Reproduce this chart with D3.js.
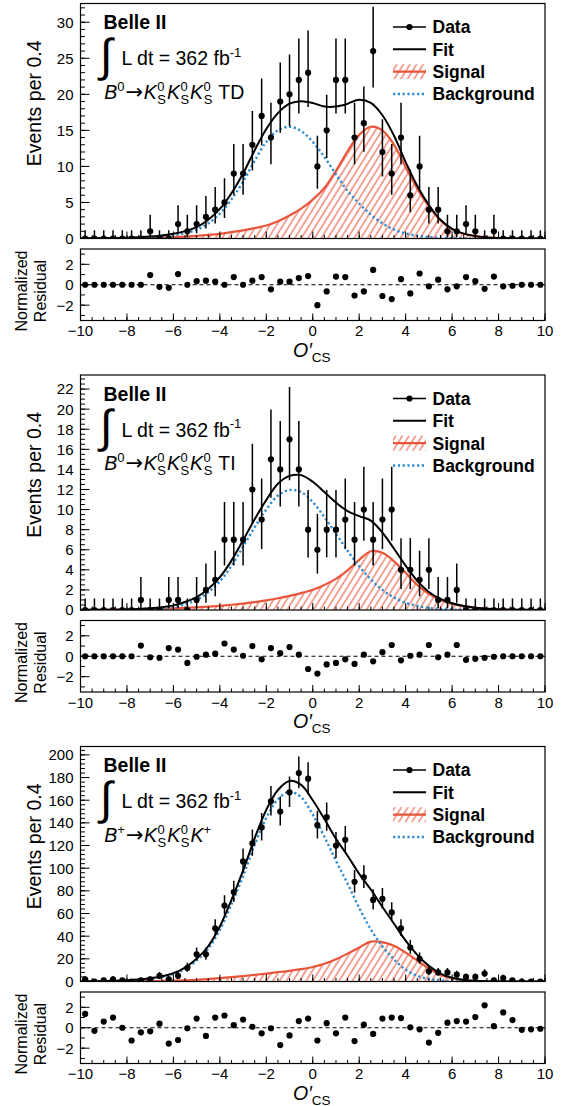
<!DOCTYPE html>
<html><head><meta charset="utf-8">
<script src="https://cdn.jsdelivr.net/npm/d3@7"></script>
<style>
body{margin:0;background:#fff;}
svg text{font-family:"Liberation Sans",Arial,Helvetica,sans-serif;fill:#000;}
</style></head><body>
<svg id="c" width="569" height="1106"></svg>
<script>
// ---------- data ----------
const binCenters = [-9.8,-9.4,-9.0,-8.6,-8.2,-7.8,-7.4,-7.0,-6.6,-6.2,-5.8,-5.4,-5.0,-4.6,-4.2,-3.8,-3.4,-3.0,-2.6,-2.2,-1.8,-1.4,-1.0,-0.6,-0.2,0.2,0.6,1.0,1.4,1.8,2.2,2.6,3.0,3.4,3.8,4.2,4.6,5.0,5.4,5.8,6.2,6.6,7.0,7.4,7.8,8.2,8.6,9.0,9.4,9.8];

const countsTD = [0,0,0,0,0,0,0,1,0,0, 2,1,2,3,4,5,9,9,13,17, 14,19,20,22,23, 10,15,22,22,14, 16,26,12,9,14, 6,10,4,4,1, 1,2,1,0,1, 0,0,0,0,0];
const residTD = [0,0,0,0,0,0,0,0.95,-0.2,-0.3, 1.05,0,0.35,0.4,0.3,0,0.75,0,0.4,0.75, -0.45,0.3,0.3,0.65,0.85, -2.0,-0.65,0.8,0.75,-1.05, -0.65,1.45,-1.1,-1.4,0.55, -0.85,1.1,-0.15,0.5,-0.45, -0.15,0.75,0.35,-0.4,0.8, -0.15,-0.1,0,0,0];

const countsTI = [0,0,0,0,0,0,1,0,0,1, 1,0,1,2,3,7,7,7,12,9, 15,14,17,14,8, 6,8,8,9,7, 10,7,9,10,4, 4,3,4,1,1, 2,0,0,0,0, 0,0,0,0,0];
const residTI = [0,0,0,0,0,0,1.05,-0.1,-0.15,0.8, 0.65,-0.65,-0.05,0.15,0.25,1.25,0.65,0.05,1.0,-0.3, 0.8,0.3,0.9,0.15,-1.25, -1.7,-0.8,-0.65,-0.3,-0.75, 0.15,-0.5,0.4,1.1,-0.4, 0.05,0.15,1.1,-0.1,0.15, 1.1,-0.35,-0.25,-0.15,-0.05, 0,0,0,0,0];

const countsBp = [2,0,1,2,1,0,1,2,5,2, 5,12,24,24,47,67,79,106,122,136, 159,150,167,184,179, 138,145,120,125,88, 92,72,73,61,47, 30,20,9,8,8, 6,4,4,7,1, 3,1,0,0,0];
const residBp = [1.35,-0.3,0.6,1.0,0,-1.25,-0.45,-0.35,0.4,-1.55, -1.2,-0.05,0.9,-0.8,1.0,1.2,0.25,0.8,0.1,-0.55, -0.05,-1.7,-0.75,0.65,0.9, -1.25,0.45,-0.55,1.0,-1.3, 0.3,-0.6,0.9,1.0,0.95, 0.05,-0.15,-1.45,-0.5,0.5, 0.65,0.6,1.05,2.2,0.15, 1.5,0.75,-0.2,-0.15,-0.1];

// fitted PDF components sampled on a 0.5 grid
const curveX = [-10,-9.5,-9,-8.5,-8,-7.5,-7,-6.5,-6,-5.5,-5,-4.5,-4,-3.5,-3,-2.5,-2,-1.5,-1,-0.5,0,0.5,1,1.5,2,2.5,3,3.5,4,4.5,5,5.5,6,6.5,7,7.5,8,8.5,9,9.5,10];

const sigTD = [0.02,0.03,0.04,0.05,0.06,0.08,0.12,0.15,0.2,0.27,0.37,0.5,0.65,0.88,1.12,1.45,1.8,2.4,3.2,4.15,5.4,7.0,9.4,12.1,14.4,15.5,15.0,13.0,9.9,6.9,4.45,2.5,1.3,0.65,0.32,0.15,0.07,0.03,0.015,0.008,0.004];
const bkgTD = [0.001,0.003,0.008,0.02,0.05,0.1,0.15,0.28,0.45,0.75,1.2,2.1,3.45,5.4,7.9,10.8,13.4,15.0,15.5,14.9,13.4,11.3,8.9,6.6,4.85,3.3,2.1,1.25,0.7,0.38,0.2,0.1,0.05,0.02,0.01,0.005,0,0,0,0,0];

const sigTI = [0.01,0.015,0.02,0.03,0.045,0.065,0.09,0.12,0.16,0.21,0.27,0.34,0.42,0.52,0.64,0.79,0.96,1.17,1.4,1.68,2.02,2.5,3.1,3.95,5.0,5.85,5.7,4.85,3.7,2.5,1.6,1.0,0.62,0.38,0.22,0.12,0.06,0.03,0.015,0.007,0.003];
const bkgTI = [0,0.001,0.002,0.005,0.015,0.035,0.08,0.16,0.3,0.58,1.0,1.75,2.85,4.4,6.3,8.25,10.0,11.4,11.95,11.75,10.75,9.25,7.6,5.9,4.35,3.05,2.0,1.25,0.72,0.4,0.2,0.1,0.05,0.02,0.01,0,0,0,0,0,0];

const sigBp = [0.1,0.12,0.15,0.2,0.25,0.35,0.45,0.6,0.8,1.1,1.5,2.1,2.9,3.8,4.8,5.9,7.0,8.2,9.4,10.9,12.8,15.6,19.6,24.6,30.0,35.2,34.8,31.5,25.5,18.5,11.5,6.0,2.8,1.2,0.5,0.2,0.08,0.03,0.01,0.005,0.002];
const bkgBp = [0.12,0.2,0.35,0.55,0.9,1.45,2.45,3.9,6.5,11.2,18.5,29,45.6,68.2,93,120.6,144.5,160.8,167.6,162.6,147.2,127.9,106.4,86.4,65,46,31,19.5,10.5,5.0,2.3,1.0,0.45,0.2,0.08,0.03,0.01,0.005,0,0,0];

const xTickLabels = ["−10","−8","−6","−4","−2","0","2","4","6","8","10"];
const xTickValues = [-10,-8,-6,-4,-2,0,2,4,6,8,10];
const yTicksTD = [0,5,10,15,20,25,30];
const yTicksTI = [0,2,4,6,8,10,12,14,16,18,20,22];
const yTicksBp = [0,20,40,60,80,100,120,140,160,180,200];
const residTicks = [-2,0,2];
const legendLabels = ["Data","Fit","Signal","Background"];

// ---------- style ----------
const RED = "#e8553a", BLUE = "#2f8bd0";
const L = 80.5, R = 545;
const panels = [
  {top:3.5, ymax:32.6, yticks:yTicksTD, minor:1, counts:countsTD, resid:residTD, sig:sigTD, bkg:bkgTD, mode:"B0", tag:"TD"},
  {top:375, ymax:23.4, yticks:yTicksTI, minor:0.5, counts:countsTI, resid:residTI, sig:sigTI, bkg:bkgTI, mode:"B0", tag:"TI"},
  {top:746.5, ymax:207.4, yticks:yTicksBp, minor:4, counts:countsBp, resid:residBp, sig:sigBp, bkg:bkgBp, mode:"Bp", tag:""}
];

const svg = d3.select("#c");
const defs = svg.append("defs");
const pat = defs.append("pattern").attr("id","hatch").attr("patternUnits","userSpaceOnUse")
  .attr("width",5.6).attr("height",5.6).attr("patternTransform","rotate(32)");
pat.append("line").attr("x1",1).attr("y1",-1).attr("x2",1).attr("y2",7).attr("stroke",RED).attr("stroke-width",1.05);

const x = d3.scaleLinear().domain([-10,10]).range([L,R]);

function poisErr(n){
  if(n===0) return [0,1.147];
  const lo = n*Math.pow(1-1/(9*n)-1/(3*Math.sqrt(n)),3);
  const hi = (n+1)*Math.pow(1-1/(9*(n+1))+1/(3*Math.sqrt(n+1)),3);
  return [lo,hi];
}
const minorRange = (a,b,s)=>{const r=[];for(let v=a;v<=b+1e-9;v+=s) r.push(+v.toFixed(6));return r;};

panels.forEach((p,pi)=>{
  const T = p.top, B = T+235;
  const rT = T+245.5, rB = T+317;
  const y = d3.scaleLinear().domain([0,p.ymax]).range([B,T]);
  const yr = d3.scaleLinear().domain([-3.5,3.5]).range([rB,rT]);
  const g = svg.append("g");
  const cid = "clip"+pi;
  defs.append("clipPath").attr("id",cid).append("rect").attr("x",L).attr("y",T).attr("width",R-L).attr("height",B-T);

  // curves
  const cg = g.append("g").attr("clip-path",`url(#${cid})`);
  const pts = curveX.map((cx,i)=>({x:cx,s:p.sig[i],b:p.bkg[i],f:p.sig[i]+p.bkg[i]}));
  const cur = d3.curveCatmullRom.alpha(0.5);
  cg.append("path").datum(pts).attr("fill","url(#hatch)")
    .attr("d",d3.area().x(d=>x(d.x)).y0(B).y1(d=>y(d.s)).curve(cur));
  cg.append("path").datum(pts).attr("fill","none").attr("stroke",RED).attr("stroke-width",2.2)
    .attr("d",d3.line().x(d=>x(d.x)).y(d=>y(d.s)).curve(cur));
  cg.append("path").datum(pts).attr("fill","none").attr("stroke",BLUE).attr("stroke-width",2.4)
    .attr("stroke-dasharray","2.2,2.6")
    .attr("d",d3.line().x(d=>x(d.x)).y(d=>y(d.b)).curve(cur));
  cg.append("path").datum(pts).attr("fill","none").attr("stroke","#000").attr("stroke-width",2)
    .attr("d",d3.line().x(d=>x(d.x)).y(d=>y(d.f)).curve(cur));

  // data
  const dg = g.append("g").attr("clip-path",`url(#${cid})`);
  p.counts.forEach((n,i)=>{
    const [lo,hi] = poisErr(n);
    dg.append("line").attr("x1",x(binCenters[i])).attr("x2",x(binCenters[i]))
      .attr("y1",y(lo)).attr("y2",y(hi)).attr("stroke","#000").attr("stroke-width",1.5);
  });
  dg.selectAll("circle").data(p.counts).enter().append("circle")
    .attr("cx",(d,i)=>x(binCenters[i])).attr("cy",d=>y(d)).attr("r",3.1).attr("fill","#000");

  // main frame & axes
  g.append("rect").attr("x",L).attr("y",T).attr("width",R-L).attr("height",B-T)
    .attr("fill","none").attr("stroke","#000").attr("stroke-width",1.2);
  const yMinor = minorRange(0,p.ymax,p.minor);
  yMinor.forEach(v=>{ g.append("line").attr("x1",L).attr("x2",L+4.5).attr("y1",y(v)).attr("y2",y(v)).attr("stroke","#000").attr("stroke-width",1); });
  p.yticks.forEach(v=>{
    g.append("line").attr("x1",L).attr("x2",L+9).attr("y1",y(v)).attr("y2",y(v)).attr("stroke","#000").attr("stroke-width",1);
    g.append("text").attr("x",L-7).attr("y",y(v)).attr("dy","0.36em").attr("text-anchor","end").attr("font-size",15).text(v);
  });
  minorRange(-10,10,0.5).forEach(v=>{ g.append("line").attr("x1",x(v)).attr("x2",x(v)).attr("y1",B).attr("y2",B-3.5).attr("stroke","#000").attr("stroke-width",1); });
  xTickValues.forEach(v=>{ g.append("line").attr("x1",x(v)).attr("x2",x(v)).attr("y1",B).attr("y2",B-7).attr("stroke","#000").attr("stroke-width",1); });

  g.append("text").attr("transform",`translate(41,${T+37}) rotate(-90)`).attr("text-anchor","end")
    .attr("font-size",19.5).text("Events per 0.4");

  // labels
  g.append("text").attr("x",103.5).attr("y",T+25.8).attr("font-size",19.5).attr("font-weight","bold").text("Belle II");
  g.append("text").attr("x",100).attr("y",T+67).attr("font-size",46).attr("font-family","Liberation Serif").text("∫");
  const lt = g.append("text").attr("x",121.5).attr("y",T+61.5).attr("font-size",19.5);
  lt.append("tspan").text("L dt = 362 fb");
  lt.append("tspan").attr("font-size",13).attr("dy",-8.5).text("-1");

  const base = T+95;
  const dt = g.append("text").attr("x",104.3).attr("y",base).attr("font-size",19.5);
  const add = (txt,o)=>{ const t = dt.append("tspan").attr("y",base+(o.off||0)).text(txt);
    if(o.dx) t.attr("dx",o.dx); if(o.it) t.attr("font-style","italic"); if(o.fs) t.attr("font-size",o.fs); if(o.ff) t.attr("font-family",o.ff); return t; };
  const KS = (gap)=>{ add("K",{it:1,dx:gap}); add("0",{fs:13,off:-8,dx:0.5}); add("S",{fs:13,off:5,dx:-7.2}); };
  add("B",{it:1});
  add(p.mode==="B0"?"0":"+",{fs:13,off:-8});
  add("→",{dx:1,ff:"DejaVu Sans",fs:21});
  KS(0.5); KS(1); 
  if(p.mode==="B0"){ KS(1); add(p.tag,{dx:6}); }
  else { add("K",{it:1,dx:1}); add("+",{fs:13,off:-8}); }

  // legend
  const lx0 = 393, lx1 = 426, tx = 432.5;
  const ly = [T+23.5, T+45.8, T+68.2, T+90.5];
  g.append("line").attr("x1",lx0).attr("x2",lx1).attr("y1",ly[0]).attr("y2",ly[0]).attr("stroke","#000").attr("stroke-width",1.5);
  g.append("circle").attr("cx",(lx0+lx1)/2).attr("cy",ly[0]).attr("r",3.1).attr("fill","#000");
  g.append("line").attr("x1",lx0).attr("x2",lx1).attr("y1",ly[1]).attr("y2",ly[1]).attr("stroke","#000").attr("stroke-width",2);
  g.append("rect").attr("x",lx0).attr("y",ly[2]-7.5).attr("width",lx1-lx0).attr("height",15).attr("fill","url(#hatch)");
  g.append("line").attr("x1",lx0).attr("x2",lx1).attr("y1",ly[2]).attr("y2",ly[2]).attr("stroke",RED).attr("stroke-width",2.2);
  g.append("line").attr("x1",lx0).attr("x2",lx1).attr("y1",ly[3]).attr("y2",ly[3]).attr("stroke",BLUE).attr("stroke-width",2.4).attr("stroke-dasharray","2.2,2.6");
  legendLabels.forEach((t,i)=>{
    g.append("text").attr("x",tx).attr("y",ly[i]).attr("dy","0.36em").attr("font-size",17.5).attr("font-weight","bold").text(t);
  });

  // residual panel
  g.append("line").attr("x1",L).attr("x2",R).attr("y1",yr(0)).attr("y2",yr(0)).attr("stroke","#000").attr("stroke-width",1).attr("stroke-dasharray","4,3");
  g.selectAll(".rp").data(p.resid).enter().append("circle")
    .attr("cx",(d,i)=>x(binCenters[i])).attr("cy",d=>yr(d)).attr("r",3.1).attr("fill","#000");
  g.append("rect").attr("x",L).attr("y",rT).attr("width",R-L).attr("height",rB-rT)
    .attr("fill","none").attr("stroke","#000").attr("stroke-width",1.2);
  minorRange(-3,3,1).forEach(v=>{ g.append("line").attr("x1",L).attr("x2",L+4.5).attr("y1",yr(v)).attr("y2",yr(v)).attr("stroke","#000").attr("stroke-width",1); });
  residTicks.forEach(v=>{
    g.append("line").attr("x1",L).attr("x2",L+9).attr("y1",yr(v)).attr("y2",yr(v)).attr("stroke","#000").attr("stroke-width",1);
    g.append("text").attr("x",L-7).attr("y",yr(v)).attr("dy","0.36em").attr("text-anchor","end").attr("font-size",15).text(v<0?"−"+(-v):v);
  });
  minorRange(-10,10,0.5).forEach(v=>{ g.append("line").attr("x1",x(v)).attr("x2",x(v)).attr("y1",rB).attr("y2",rB-3.5).attr("stroke","#000").attr("stroke-width",1); });
  xTickValues.forEach((v,i)=>{
    g.append("line").attr("x1",x(v)).attr("x2",x(v)).attr("y1",rB).attr("y2",rB-7).attr("stroke","#000").attr("stroke-width",1);
    g.append("text").attr("x",x(v)).attr("y",T+332.5).attr("text-anchor","middle").attr("font-size",15).text(xTickLabels[i]);
  });
  g.append("text").attr("transform",`translate(27,${T+287.5}) rotate(-90)`).attr("text-anchor","middle").attr("font-size",16).text("Normalized");
  g.append("text").attr("transform",`translate(46,${T+287.5}) rotate(-90)`).attr("text-anchor","middle").attr("font-size",16).text("Residual");
  const xt = g.append("text").attr("x",293).attr("y",T+353).attr("font-size",19.5);
  xt.append("tspan").attr("font-style","italic").text("O′");
  xt.append("tspan").attr("font-size",13.5).attr("dy",5).text("CS");
});
</script>
</body></html>
